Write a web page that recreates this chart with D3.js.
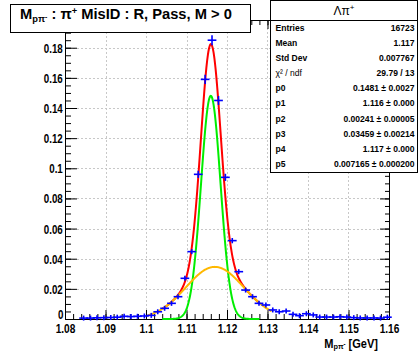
<!DOCTYPE html>
<html>
<head>
<meta charset="utf-8">
<script src="https://cdn.jsdelivr.net/npm/d3@7"></script>
<style>
  body { margin: 0; background: #fff; }
  text { font-family: "Liberation Sans", Arial, Helvetica, sans-serif; }
</style>
</head>
<body>
<div id="chart"></div>
<script>
// histogram bins (normalised)
const binCenters = [1.0846, 1.0863, 1.0879, 1.0896, 1.0913, 1.0929, 1.0946, 1.0963, 1.0979, 1.0996,
                    1.1013, 1.1029, 1.1046, 1.1063, 1.1079, 1.1096, 1.1113, 1.1129, 1.1146, 1.1163,
                    1.1179, 1.1196, 1.1213, 1.1229, 1.1246, 1.1263, 1.1279, 1.1296, 1.1313, 1.1329,
                    1.1346, 1.1363, 1.1379, 1.1396, 1.1413, 1.1429, 1.1446, 1.1463, 1.1479, 1.1496,
                    1.1513, 1.1529, 1.1546, 1.1563, 1.1579, 1.1596];
const binValues = [0.0006, 0.0006, 0.0008, 0.0009, 0.0010, 0.0012, 0.0018, 0.0016, 0.0018, 0.0020,
                   0.0024, 0.0048, 0.0071, 0.0104, 0.0148, 0.0270, 0.0447, 0.0960, 0.1590, 0.1850,
                   0.1450, 0.0940, 0.0520, 0.0314, 0.0192, 0.0148, 0.0104, 0.0093, 0.0060, 0.0048,
                   0.0053, 0.0031, 0.0022, 0.0035, 0.0027, 0.0013, 0.0013, 0.0013, 0.0015, 0.0013,
                   0.0009, 0.0007, 0.0007, 0.0007, 0.0006, 0.0012];
const binWidth = 0.001667;
const entries = 16723;

// fit: p0*gaus(p1,p2) + p3*gaus(p4,p5)
const fitParams = [0.1481, 1.116, 0.00241, 0.03459, 1.117, 0.007165];
const fitRange = [1.104, 1.128];
const wideRange = [1.1005, 1.131];

const xTicks = [1.08, 1.09, 1.1, 1.11, 1.12, 1.13, 1.14, 1.15, 1.16];
const yTicks = [0, 0.02, 0.04, 0.06, 0.08, 0.1, 0.12, 0.14, 0.16, 0.18];

const statLabels = ["Entries", "Mean", "Std Dev", "\u03c7\u00b2 / ndf", "p0", "p1", "p2", "p3", "p4", "p5"];
const statValues = ["16723", "1.117", "0.007767", "29.79 / 13", "0.1481 \u00b1 0.0027", "1.116 \u00b1 0.000",
                    "0.00241 \u00b1 0.00005", "0.03459 \u00b1 0.00214", "1.117 \u00b1 0.000", "0.007165 \u00b1 0.000200"];

const width = 418, height = 351;
const margin = {left: 65, right: 29, top: 20, bottom: 32};
const plotW = width - margin.left - margin.right;
const plotH = height - margin.top - margin.bottom;
const sx = 0.75; // the reference glyphs are narrow

const svg = d3.select("#chart").append("svg")
    .attr("width", width)
    .attr("height", height);

const xScale = d3.scaleLinear().domain([1.08, 1.16]).range([margin.left, margin.left + plotW]);
const yScale = d3.scaleLinear().domain([0, 0.1984]).range([margin.top + plotH, margin.top]);

// grid
const grid = svg.append("g").attr("stroke", "#c8c8c8").attr("stroke-dasharray", "2,2").attr("stroke-width", 1);
grid.selectAll(".gx").data(xTicks.slice(1, -1)).enter().append("line")
    .attr("x1", d => Math.round(xScale(d)) + 0.5).attr("x2", d => Math.round(xScale(d)) + 0.5)
    .attr("y1", margin.top).attr("y2", margin.top + plotH);
grid.selectAll(".gy").data(yTicks.slice(1)).enter().append("line")
    .attr("y1", d => Math.round(yScale(d)) + 0.5).attr("y2", d => Math.round(yScale(d)) + 0.5)
    .attr("x1", margin.left).attr("x2", margin.left + plotW);

// minor tick values
const xMinor = d3.range(0, 41).map(i => 1.08 + i * 0.002);
const yMinor = d3.range(0, 40).map(i => i * 0.005).filter(v => v <= 0.1984);

function axisGroup(axis, tx, ty) {
    const g = svg.append("g").attr("transform", `translate(${tx},${ty})`).call(axis);
    g.select(".domain").remove();
    g.selectAll("line").attr("stroke", "#000");
    return g;
}

// x axes (bottom + top), ticks inward
axisGroup(d3.axisBottom(xScale).tickValues(xMinor).tickSize(-5).tickFormat(""), 0, margin.top + plotH);
const xAx = axisGroup(d3.axisBottom(xScale).tickValues(xTicks).tickSize(-9).tickPadding(3)
    .tickFormat(d3.format("")), 0, margin.top + plotH);
xAx.selectAll("text")
    .attr("font-size", 13.5).attr("font-weight", "bold").attr("fill", "#000")
    .attr("dy", "0.71em").attr("y", 4)
    .attr("transform", `scale(${sx},1)`);
axisGroup(d3.axisTop(xScale).tickValues(xMinor).tickSize(-5).tickFormat(""), 0, margin.top);
axisGroup(d3.axisTop(xScale).tickValues(xTicks).tickSize(-9).tickFormat(""), 0, margin.top);

// y axes (left + right)
axisGroup(d3.axisLeft(yScale).tickValues(yMinor).tickSize(-6).tickFormat(""), margin.left, 0);
const yAx = axisGroup(d3.axisLeft(yScale).tickValues(yTicks).tickSize(-12).tickPadding(3)
    .tickFormat(d => d === 0 ? "0" : d3.format("")(+d.toFixed(2))), margin.left, 0);
yAx.selectAll("text")
    .attr("font-size", 13).attr("font-weight", "bold").attr("fill", "#000")
    .attr("x", d => d === 0 ? -2 : -3)
    .attr("dy", d => d === 0 ? "-0.05em" : "0.35em")
    .attr("transform", `scale(${sx},1)`);
axisGroup(d3.axisRight(yScale).tickValues(yMinor).tickSize(-4).tickFormat(""), margin.left + plotW, 0);
axisGroup(d3.axisRight(yScale).tickValues(yTicks).tickSize(-9).tickFormat(""), margin.left + plotW, 0);

// frame
svg.append("rect")
    .attr("x", margin.left + 0.5).attr("y", margin.top + 0.5)
    .attr("width", plotW).attr("height", plotH)
    .attr("fill", "none").attr("stroke", "#000").attr("stroke-width", 1);

// fit curves
function gaus(v, a, m, s) { return a * Math.exp(-0.5 * ((v - m) / s) ** 2); }
const [p0, p1, p2, p3, p4, p5] = fitParams;
const line = d3.line().x(d => xScale(d[0])).y(d => yScale(d[1]));
const fitXs = d3.range(fitRange[0], fitRange[1] + 1e-9, 0.0001);
const wideXs = d3.range(wideRange[0], wideRange[1] + 1e-9, 0.0001);

svg.append("path")
    .datum(fitXs.map(v => [v, gaus(v, p0, p1, p2) + gaus(v, p3, p4, p5)]))
    .attr("d", line).attr("fill", "none").attr("stroke", "#ff0000").attr("stroke-width", 2);
svg.append("path")
    .datum(fitXs.map(v => [v, gaus(v, p0, p1, p2)]))
    .attr("d", line).attr("fill", "none").attr("stroke", "#00ee00").attr("stroke-width", 2);
svg.append("path")
    .datum(wideXs.map(v => [v, gaus(v, p3, p4, p5)]))
    .attr("d", line).attr("fill", "none").attr("stroke", "#ffb800").attr("stroke-width", 2);

// data points with error bars
const pts = binCenters.map((c, i) => ({x: c, y: binValues[i], e: Math.sqrt(binValues[i] / entries)}));
const pg = svg.append("g").attr("stroke", "#0000ff").attr("stroke-width", 1.6);
pg.selectAll(".eh").data(pts).enter().append("line")
    .attr("x1", d => xScale(d.x - binWidth / 2) - 1).attr("x2", d => xScale(d.x + binWidth / 2) + 1)
    .attr("y1", d => yScale(d.y)).attr("y2", d => yScale(d.y));
pg.selectAll(".ev").data(pts).enter().append("line")
    .attr("x1", d => xScale(d.x)).attr("x2", d => xScale(d.x))
    .attr("y1", d => Math.min(yScale(d.y + d.e), yScale(d.y) - 2.5))
    .attr("y2", d => Math.max(yScale(d.y - d.e), yScale(d.y) + 2.5));

// title box
svg.append("rect").attr("x", 10.5).attr("y", 4.5).attr("width", 240).attr("height", 28)
    .attr("fill", "#fff").attr("stroke", "#000");
const title = svg.append("text")
    .attr("transform", `translate(20,19) scale(0.98,1)`)
    .attr("font-size", 15).attr("font-weight", "bold");
title.append("tspan").text("M");
title.append("tspan").attr("font-size", 9.5).attr("dy", 3).text("p\u03c0");
title.append("tspan").attr("font-size", 7).attr("dy", -3).text("-");
title.append("tspan").attr("dy", 0).text(" :  \u03c0");
title.append("tspan").attr("font-size", 9.5).attr("dy", -5).text("+");
title.append("tspan").attr("dy", 5).text(" MisID : R, Pass, M > 0");

// x axis title
const xt = svg.append("text")
    .attr("transform", `translate(378,347.5) scale(0.92,1)`)
    .attr("text-anchor", "end").attr("font-size", 12).attr("font-weight", "bold");
xt.append("tspan").text("M");
xt.append("tspan").attr("font-size", 8).attr("dy", 1).text("p\u03c0");
xt.append("tspan").attr("font-size", 6.5).attr("dy", -2.5).text("-");
xt.append("tspan").attr("dy", 1.5).text(" [GeV]");

// stats box
const box = {x: 270.5, y: 0.5, w: 147, h: 172, head: 20};
svg.append("rect").attr("x", box.x).attr("y", box.y).attr("width", box.w).attr("height", box.h)
    .attr("fill", "#fff").attr("stroke", "#000");
svg.append("line").attr("x1", box.x).attr("x2", box.x + box.w)
    .attr("y1", box.head + 0.5).attr("y2", box.head + 0.5).attr("stroke", "#000");
const head = svg.append("text")
    .attr("x", box.x + box.w / 2).attr("y", 15).attr("text-anchor", "middle").attr("font-size", 12)
    .attr("font-family", "'Liberation Serif', 'Times New Roman', serif");
head.append("tspan").text("\u039b\u03c0");
head.append("tspan").attr("font-size", 8).attr("dy", -5).text("+");

const rowY = d3.scaleLinear().domain([0, statLabels.length - 1]).range([30.5, 167]);
svg.selectAll(".sl").data(statLabels).enter().append("text")
    .attr("transform", (d, i) => `translate(${box.x + 5},${rowY(i)}) scale(0.9,1)`)
    .attr("font-size", 9.5).attr("font-weight", (d, i) => i === 3 ? "normal" : "bold").text(d => d);
svg.selectAll(".sv").data(statValues).enter().append("text")
    .attr("transform", (d, i) => `translate(${box.x + box.w - 3},${rowY(i)}) scale(0.9,1)`)
    .attr("text-anchor", "end").attr("font-size", 9.5).attr("font-weight", "bold").text(d => d);
</script>
</body>
</html>
